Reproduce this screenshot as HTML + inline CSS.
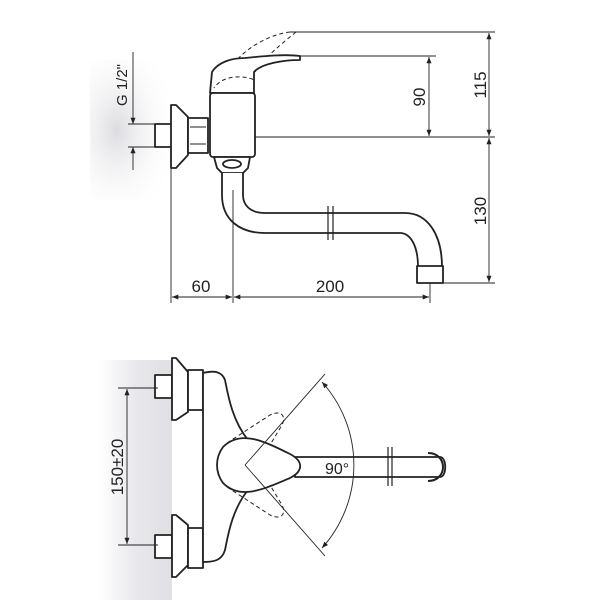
<!DOCTYPE html>
<html><head><style>body{margin:0;background:#fff}svg{display:block}text{font-family:"Liberation Sans",sans-serif;fill:#222}</style></head><body>
<svg width="600" height="600" viewBox="0 0 600 600" xmlns="http://www.w3.org/2000/svg">
<defs>
<radialGradient id="wg" cx="0.3" cy="0.5" r="0.7"><stop offset="0" stop-color="#dcdce0"/><stop offset="1" stop-color="#fff" stop-opacity="0"/></radialGradient>
<linearGradient id="wb" x1="0" y1="0" x2="1" y2="0"><stop offset="0" stop-color="#fff"/><stop offset="0.5" stop-color="#e8e8ec"/><stop offset="1" stop-color="#e0e0e4"/></linearGradient>
<marker id="a" viewBox="0 0 10 10" refX="10" refY="5" markerWidth="7" markerHeight="7" orient="auto-start-reverse"><path d="M0,1 L10,5 L0,9 z" fill="#222"/></marker>
</defs>
<rect x="90" y="60" width="90" height="140" fill="url(#wg)"/>
<rect x="100" y="360" width="72" height="240" fill="url(#wb)"/>
<g fill="#fff" stroke="#222" stroke-width="1.8" stroke-linejoin="round">
<path d="M290,32 C270,34 240,50 230,70" stroke-dasharray="4,3" stroke-width="1" fill="none"/>
<path d="M296,32 C280,45 262,60 255,72" stroke-dasharray="4,3" stroke-width="1" fill="none"/>
<rect x="155" y="124" width="17" height="23"/>
<path d="M171,105 L176,105 L188,117 L188,155 L176,168 L171,168 Z"/>
<rect x="188" y="118" width="20" height="35"/>
<line x1="190" y1="127" x2="206" y2="127" stroke-width="1"/><line x1="190" y1="144" x2="206" y2="144" stroke-width="1"/>
<path d="M212,72 C218,62 232,58 245,58 C265,56 285,54 300,56 L300,60 C285,60 262,63 254,72 L254,93 L210,93 Z"/>
<path d="M254,93 L254,80 C250,77 225,72 214,88" fill="none" stroke-width="1" stroke-dasharray="4,3"/>
<rect x="210" y="93" width="45" height="64" rx="3"/>
<path d="M214,157 L250,157 L248,168 L243,173 L222,173 L217,168 Z"/>
<ellipse cx="232" cy="164" rx="9" ry="4"/>
<path d="M222,173 L222,195 C222,220 240,233 265,233 L400,233 C410,233 418,245 418,267 L442,267 C442,235 428,213 405,213 L265,213 C250,213 243,205 243,195 L243,173" />
<rect x="417" y="266" width="26" height="17"/>
<line x1="328" y1="206" x2="328" y2="240" stroke-width="1.2"/><line x1="333" y1="206" x2="333" y2="240" stroke-width="1.2"/>
<rect x="155" y="375" width="17" height="23"/>
<path d="M172,358 L176,358 L188,372 L188,412 L176,420 L172,420 Z"/>
<rect x="188" y="370" width="15" height="40"/>
<rect x="155" y="535" width="17" height="23"/>
<path d="M172,515 L176,515 L188,525 L188,565 L176,577 L172,577 Z"/>
<rect x="188" y="528" width="15" height="40"/>
<path d="M203,373 C215,370 222,372 225,380 C228,395 232,420 248,440 L248,490 C232,510 228,535 225,550 C222,560 215,562 203,562 Z"/>
<path d="M295,457 L440,457 C447,457 447,477 440,477 L295,477 Z"/>
<path d="M428,453 C448,453 448,481 428,481" fill="none" stroke-width="2"/>
<path d="M223,447 C240,430 262,440 290,454 C305,462 302,472 290,478 C262,490 240,500 223,483 C215,472 215,458 223,447 Z"/>
<path d="M227,443 L270,415 C280,410 287,415 282,425 L270,445" fill="none" stroke-width="1" stroke-dasharray="4,3"/>
<path d="M227,487 L270,515 C280,520 287,515 282,505 L270,485" fill="none" stroke-width="1" stroke-dasharray="4,3"/>
<line x1="388" y1="447" x2="388" y2="486" stroke-width="1.2"/><line x1="392" y1="447" x2="392" y2="486" stroke-width="1.2"/>
</g>
<g stroke="#222" stroke-width="0.9" fill="none">
<line x1="290" y1="32" x2="495" y2="32"/><line x1="300" y1="56" x2="436" y2="56"/><line x1="255" y1="137" x2="495" y2="137"/><line x1="443" y1="283" x2="495" y2="283"/>
<line x1="429" y1="57" x2="429" y2="136" marker-start="url(#a)" marker-end="url(#a)"/>
<line x1="489" y1="33" x2="489" y2="136" marker-start="url(#a)" marker-end="url(#a)"/>
<line x1="489" y1="138" x2="489" y2="282" marker-start="url(#a)" marker-end="url(#a)"/>
<line x1="171" y1="168" x2="171" y2="303"/><line x1="233" y1="190" x2="233" y2="303"/><line x1="430" y1="283" x2="430" y2="303"/>
<line x1="172" y1="297" x2="232" y2="297" marker-start="url(#a)" marker-end="url(#a)"/>
<line x1="234" y1="297" x2="429" y2="297" marker-start="url(#a)" marker-end="url(#a)"/>
<line x1="128" y1="124" x2="155" y2="124"/><line x1="128" y1="147" x2="155" y2="147"/>
<line x1="133" y1="52" x2="133" y2="124" marker-end="url(#a)"/><line x1="133" y1="170" x2="133" y2="147" marker-end="url(#a)"/>
<line x1="118" y1="388" x2="158" y2="388"/><line x1="118" y1="545" x2="158" y2="545"/>
<line x1="127" y1="389" x2="127" y2="544" marker-start="url(#a)" marker-end="url(#a)"/>
<line x1="245" y1="465" x2="325" y2="374"/><line x1="245" y1="465" x2="325" y2="556"/>
<path d="M322,382 A124,124 0 0 1 322,548" marker-start="url(#a)" marker-end="url(#a)"/>
</g>
<g font-size="17">
<text x="201" y="292" text-anchor="middle">60</text>
<text x="330" y="292" text-anchor="middle">200</text>
<text x="325" y="474" font-size="16">90°</text>
<text transform="translate(425,97) rotate(-90)" text-anchor="middle">90</text>
<text transform="translate(486,85) rotate(-90)" text-anchor="middle">115</text>
<text transform="translate(486,211) rotate(-90)" text-anchor="middle">130</text>
<text transform="translate(127,85) rotate(-90)" text-anchor="middle" font-size="15">G 1/2"</text>
<text transform="translate(123,467) rotate(-90)" text-anchor="middle">150±20</text>
</g>
</svg>
</body></html>
